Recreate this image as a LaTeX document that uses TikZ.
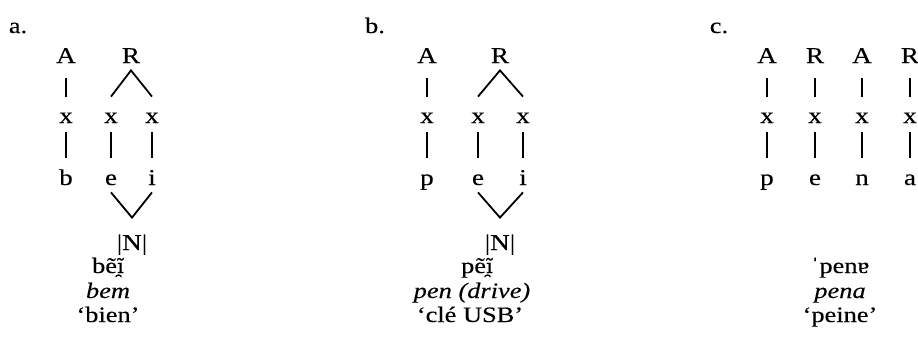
\documentclass[tikz,border=0pt]{standalone}
\usepackage{fontspec}
\setmainfont{Liberation Serif}[FakeStretch=1.2,FakeBold=0.2]
\newfontfamily\ipafont{DejaVu Serif}[FakeStretch=1.1,Scale=0.88,FakeBold=0.2]
\tikzset{
 seg/.style={inner sep=0pt,text height=6pt,text depth=0pt,anchor=base,font=\fontsize{11.3}{13}\selectfont},
 gloss/.style={inner sep=0pt,anchor=base,font=\fontsize{11}{13}\selectfont},
 stem/.style={line width=0.9pt,shorten <=7.5pt,shorten >=7pt},
 stemlow/.style={line width=0.9pt,shorten <=4.5pt,shorten >=7.5pt},
 branch/.style={line width=0.9pt}}
\begin{document}
\begin{tikzpicture}[x=0.5pt,y=-0.5pt]
\useasboundingbox (0,0) rectangle (918,343);
\node[gloss] (lbla) at (18,33) {a.};
\node[seg] (aA) at (66,63) {A};
\node[seg] (aR) at (131,63) {R};
\node[seg] (ax1) at (66,123) {x};
\node[seg] (ax2) at (111,123) {x};
\node[seg] (ax3) at (152,123) {x};
\node[seg] (ab) at (66,185) {b};
\node[seg] (ae) at (111,185) {e};
\node[seg] (ai) at (152,185) {i};
\node[seg] (aN) at (132,250) {|N|};
\node[gloss] (aphon) at (108,273) {bẽ{\ipafont ĩ̯}};
\node[gloss] (aorth) at (108,298) {\textit{bem}};
\node[gloss] (agloss) at (108,322) {‘bien’};
\draw[stem] (aA) -- (ax1);
\draw[branch] ([yshift=7pt]ax2.north) -- ([yshift=-3.5pt]aR.south) -- ([yshift=7pt]ax3.north);
\draw[stemlow] (ax1) -- (ab); \draw[stemlow] (ax2) -- (ae); \draw[stemlow] (ax3) -- (ai);
\draw[branch] ([yshift=-3.5pt]ae.south) -- ([yshift=10pt]aN.north) -- ([yshift=-3.5pt]ai.south);

\node[gloss] (lblb) at (375,33) {b.};
\node[seg] (bA) at (427,63) {A};
\node[seg] (bR) at (500,63) {R};
\node[seg] (bx1) at (427,123) {x};
\node[seg] (bx2) at (478,123) {x};
\node[seg] (bx3) at (523,123) {x};
\node[seg] (bp) at (427,185) {p};
\node[seg] (be) at (478,185) {e};
\node[seg] (bi) at (523,185) {i};
\node[seg] (bN) at (500,250) {|N|};
\node[gloss] (bphon) at (477,273) {pẽ{\ipafont ĩ̯}};
\node[gloss] (borth) at (472,298) {\textit{pen (drive)}};
\node[gloss] (bgloss) at (470,322) {‘clé USB’};
\draw[stem] (bA) -- (bx1);
\draw[branch] ([yshift=7pt]bx2.north) -- ([yshift=-3.5pt]bR.south) -- ([yshift=7pt]bx3.north);
\draw[stemlow] (bx1) -- (bp); \draw[stemlow] (bx2) -- (be); \draw[stemlow] (bx3) -- (bi);
\draw[branch] ([yshift=-3.5pt]be.south) -- ([yshift=10pt]bN.north) -- ([yshift=-3.5pt]bi.south);

\node[gloss] (lblc) at (719,33) {c.};
\node[seg] (cA1) at (767,63) {A};
\node[seg] (cR1) at (815,63) {R};
\node[seg] (cA2) at (862,63) {A};
\node[seg] (cR2) at (910,63) {R};
\node[seg] (cx1) at (767,123) {x};
\node[seg] (cx2) at (815,123) {x};
\node[seg] (cx3) at (862,123) {x};
\node[seg] (cx4) at (910,123) {x};
\node[seg] (cp) at (767,185) {p};
\node[seg] (ce) at (815,185) {e};
\node[seg] (cn) at (862,185) {n};
\node[seg] (ca) at (910,185) {a};
\node[gloss] (cphon) at (840,273) {ˈpenɐ};
\node[gloss] (corth) at (840,298) {\textit{pena}};
\node[gloss] (cgloss) at (840,322) {‘peine’};
\draw[stem] (cA1) -- (cx1); \draw[stem] (cR1) -- (cx2); \draw[stem] (cA2) -- (cx3); \draw[stem] (cR2) -- (cx4);
\draw[stemlow] (cx1) -- (cp); \draw[stemlow] (cx2) -- (ce); \draw[stemlow] (cx3) -- (cn); \draw[stemlow] (cx4) -- (ca);
\end{tikzpicture}
\end{document}
